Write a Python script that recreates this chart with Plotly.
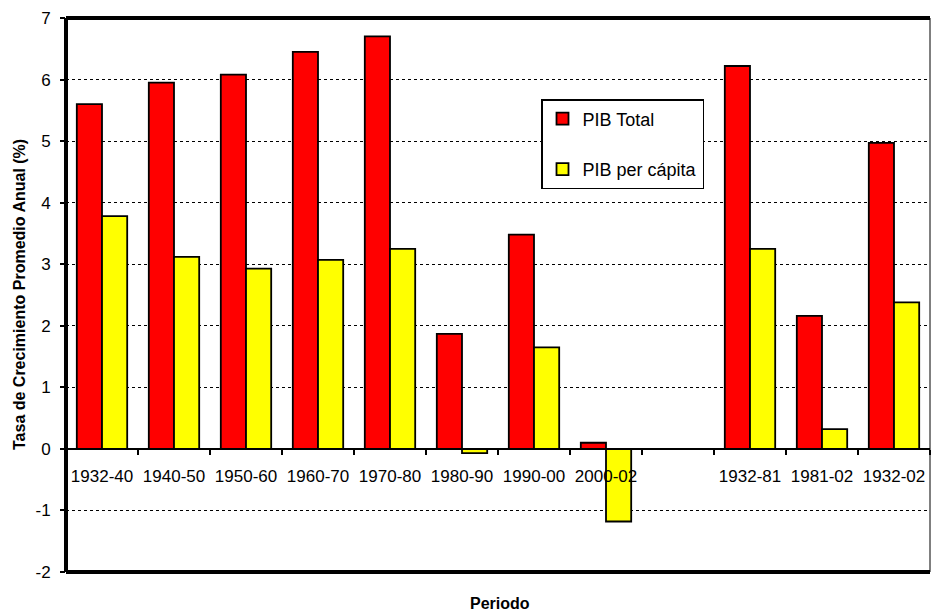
import plotly.graph_objects as go

periodos = ["1932-40", "1940-50", "1950-60", "1960-70", "1970-80", "1980-90",
            "1990-00", "2000-02", " ", "1932-81", "1981-02", "1932-02"]
pib_total = [5.6, 5.95, 6.08, 6.45, 6.7, 1.87, 3.48, 0.1, None, 6.22, 2.16, 4.97]
pib_per_capita = [3.78, 3.12, 2.93, 3.07, 3.25, -0.07, 1.65, -1.18, None, 3.25, 0.32, 2.38]
y_ticks = [-2, -1, 0, 1, 2, 3, 4, 5, 6, 7]

FONT = "Arial, Liberation Sans, sans-serif"

fig = go.Figure()
fig.add_trace(go.Bar(x=periodos, y=pib_total, name="PIB Total",
                     marker=dict(color="#FF0000", line=dict(color="black", width=1.8)),
                     legendgroup="a"))
fig.add_trace(go.Bar(x=periodos, y=pib_per_capita, name="PIB per cápita",
                     marker=dict(color="#FFFF00", line=dict(color="black", width=1.8)),
                     legendgroup="b"))

fig.update_layout(
    width=932, height=611,
    margin=dict(l=66, r=2, t=18, b=39, autoexpand=False),
    plot_bgcolor="white", paper_bgcolor="white",
    barmode="group", bargap=0.3, bargroupgap=0,
    font=dict(family=FONT, size=17, color="black"),
    showlegend=True,
    legend=dict(x=(541 - 66) / 864, y=(572 - 99) / 554, xanchor="left", yanchor="top",
                bgcolor="white", bordercolor="black", borderwidth=1.5,
                font=dict(family=FONT, size=18, color="black"),
                tracegroupgap=24, traceorder="grouped", itemwidth=30),
    xaxis=dict(type="category", categoryorder="array", categoryarray=periodos,
               range=[-0.5, 11.5], anchor="free", position=2 / 9,
               showline=True, linecolor="black", linewidth=2,
               ticks="outside", tickson="boundaries", ticklen=5, tickwidth=2, tickcolor="black",
               tickfont=dict(family=FONT, size=17, color="black"),
               tickangle=0, automargin=False,
               ticklabelstandoff=12, showgrid=False, zeroline=False),
    yaxis=dict(range=[-2, 7], tickvals=y_ticks, ticktext=[str(v) for v in y_ticks],
               showline=False, ticks="outside", ticklen=5, tickwidth=2, tickcolor="black",
               tickfont=dict(family=FONT, size=17, color="black"),
               ticklabelstandoff=6, automargin=False,
               showgrid=True, gridcolor="black", gridwidth=1, griddash="dot",
               zeroline=False),
    shapes=[
        dict(type="line", xref="paper", yref="paper", x0=0, x1=1, y0=1, y1=1,
             line=dict(color="black", width=4), layer="above"),
        dict(type="line", xref="paper", yref="paper", x0=0, x1=1, y0=0, y1=0,
             line=dict(color="black", width=4), layer="above"),
        dict(type="line", xref="paper", yref="paper", x0=0, x1=0, y0=0, y1=1,
             line=dict(color="black", width=4), layer="above"),
        dict(type="line", xref="paper", yref="paper", x0=1, x1=1, y0=0, y1=1,
             line=dict(color="black", width=1), layer="above"),
    ],
    annotations=[
        dict(text="<b>Tasa de Crecimiento Promedio Anual (%)</b>", textangle=-90,
             xref="paper", yref="paper", x=(19 - 66) / 864, y=(572 - 295) / 554,
             showarrow=False, font=dict(family=FONT, size=16, color="black"),
             xanchor="center", yanchor="middle"),
        dict(text="<b>Periodo</b>", xref="paper", yref="paper",
             x=(500 - 66) / 864, y=(572 - 603) / 554, showarrow=False,
             font=dict(family=FONT, size=16, color="black"),
             xanchor="center", yanchor="middle"),
    ],
)

fig.write_html("out.html", config={"displayModeBar": False},
               post_script="document.body.style.margin='0';document.body.style.overflow='hidden';")
